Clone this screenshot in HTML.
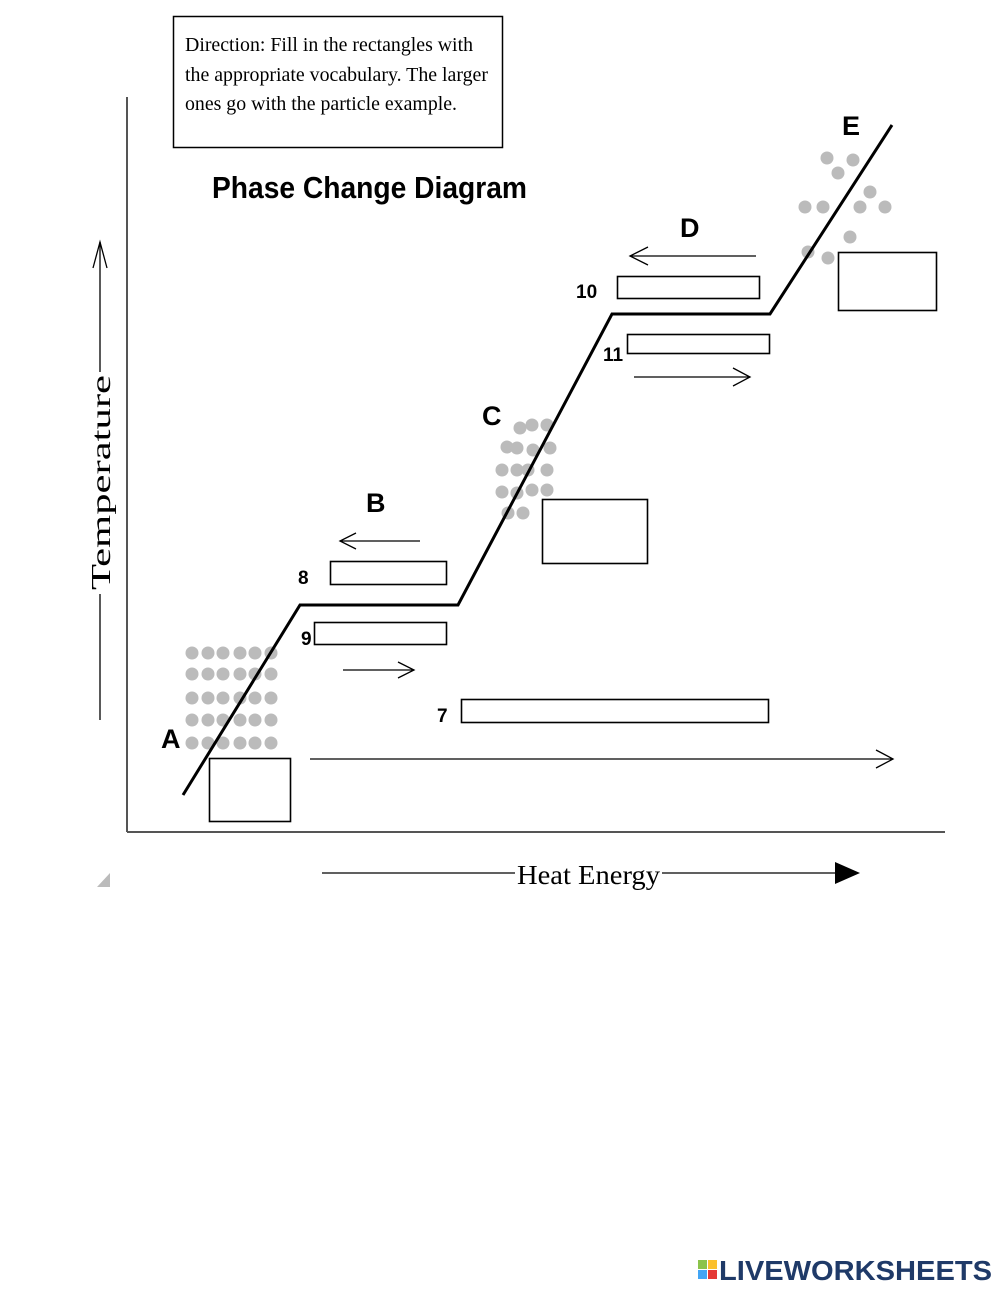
<!DOCTYPE html>
<html><head><meta charset="utf-8"><style>body{margin:0;background:#fff}svg{display:block}</style></head>
<body>
<svg width="1000" height="1291" viewBox="0 0 1000 1291" xmlns="http://www.w3.org/2000/svg">
<rect width="1000" height="1291" fill="#fff"/>
<rect x="173.5" y="16.5" width="329" height="131" fill="#fff" stroke="#000" stroke-width="1.5"/>
<g font-family="Liberation Serif, serif" font-size="20" fill="#000">
<text x="185" y="51" textLength="288" lengthAdjust="spacingAndGlyphs">Direction: Fill in the rectangles with</text>
<text x="185" y="81" textLength="303" lengthAdjust="spacingAndGlyphs">the appropriate vocabulary. The larger</text>
<text x="185" y="110" textLength="272" lengthAdjust="spacingAndGlyphs">ones go with the particle example.</text>
</g>
<text x="212" y="198" font-family="Liberation Sans, sans-serif" font-weight="bold" font-size="31" textLength="315" lengthAdjust="spacingAndGlyphs">Phase Change Diagram</text>
<line x1="127" y1="97" x2="127" y2="832" stroke="#555" stroke-width="2"/>
<line x1="127" y1="832" x2="945" y2="832" stroke="#555" stroke-width="2"/>
<line x1="100" y1="720" x2="100" y2="242" stroke="#000" stroke-width="1.3"/>
<polyline points="93,268 100,242 107,268" fill="none" stroke="#000" stroke-width="1.3"/>
<rect x="88" y="372" width="24" height="222" fill="#fff"/>
<text transform="translate(110,590) rotate(-90)" font-family="Liberation Serif, serif" font-size="27" textLength="215" lengthAdjust="spacingAndGlyphs">Temperature</text>
<line x1="322" y1="873" x2="515" y2="873" stroke="#000" stroke-width="1.3"/>
<text x="517" y="884" font-family="Liberation Serif, serif" font-size="27" textLength="143" lengthAdjust="spacingAndGlyphs">Heat Energy</text>
<line x1="662" y1="873" x2="840" y2="873" stroke="#000" stroke-width="1.3"/>
<polygon points="835,862 860,873 835,884" fill="#000"/>
<polygon points="97,887 110,887 110,873" fill="#bbb"/>
<g fill="#bbb">
<g id="row">
<circle cx="192" cy="653" r="6.5"/><circle cx="208" cy="653" r="6.5"/><circle cx="223" cy="653" r="6.5"/><circle cx="240" cy="653" r="6.5"/><circle cx="255" cy="653" r="6.5"/><circle cx="271" cy="653" r="6.5"/>
</g>
<use href="#row" y="21"/><use href="#row" y="45"/><use href="#row" y="67"/><use href="#row" y="90"/>
<circle cx="520" cy="428" r="6.5"/><circle cx="532" cy="425" r="6.5"/><circle cx="547" cy="425" r="6.5"/>
<circle cx="507" cy="447" r="6.5"/><circle cx="517" cy="448" r="6.5"/><circle cx="533" cy="450" r="6.5"/><circle cx="550" cy="448" r="6.5"/>
<circle cx="502" cy="470" r="6.5"/><circle cx="517" cy="470" r="6.5"/><circle cx="528" cy="470" r="6.5"/><circle cx="547" cy="470" r="6.5"/>
<circle cx="502" cy="492" r="6.5"/><circle cx="517" cy="493" r="6.5"/><circle cx="532" cy="490" r="6.5"/><circle cx="547" cy="490" r="6.5"/>
<circle cx="508" cy="513" r="6.5"/><circle cx="523" cy="513" r="6.5"/>
<circle cx="827" cy="158" r="6.5"/><circle cx="853" cy="160" r="6.5"/><circle cx="838" cy="173" r="6.5"/><circle cx="870" cy="192" r="6.5"/>
<circle cx="805" cy="207" r="6.5"/><circle cx="823" cy="207" r="6.5"/><circle cx="860" cy="207" r="6.5"/><circle cx="885" cy="207" r="6.5"/>
<circle cx="850" cy="237" r="6.5"/><circle cx="808" cy="252" r="6.5"/><circle cx="828" cy="258" r="6.5"/>
</g>
<polyline points="183,795 300,605 458,605 612,314 770,314 892,125" fill="none" stroke="#000" stroke-width="3"/>
<g fill="#fff" stroke="#000" stroke-width="1.6">
<rect x="209.5" y="758.5" width="81" height="63"/>
<rect x="542.5" y="499.5" width="105" height="64"/>
<rect x="838.5" y="252.5" width="98" height="58"/>
<rect x="330.5" y="561.5" width="116" height="23"/>
<rect x="314.5" y="622.5" width="132" height="22"/>
<rect x="461.5" y="699.5" width="307" height="23"/>
<rect x="617.5" y="276.5" width="142" height="22"/>
<rect x="627.5" y="334.5" width="142" height="19"/>
</g>
<g fill="none" stroke="#000" stroke-width="1.3">
<line x1="340" y1="541" x2="420" y2="541"/><polyline points="356,533 340,541 356,549"/>
<line x1="343" y1="670" x2="414" y2="670"/><polyline points="398,662 414,670 398,678"/>
<line x1="630" y1="256" x2="756" y2="256"/><polyline points="648,247 630,256 648,265"/>
<line x1="634" y1="377" x2="750" y2="377"/><polyline points="733,368 750,377 733,386"/>
<line x1="310" y1="759" x2="893" y2="759"/><polyline points="876,750 893,759 876,768"/>
</g>
<g font-family="Liberation Sans, sans-serif" font-weight="bold" fill="#000">
<text x="161" y="748" font-size="27">A</text>
<text x="366" y="512" font-size="27">B</text>
<text x="482" y="425" font-size="27">C</text>
<text x="680" y="237" font-size="27">D</text>
<text x="842" y="135" font-size="27">E</text>
<text x="298" y="584" font-size="19">8</text>
<text x="301" y="645" font-size="19">9</text>
<text x="437" y="722" font-size="19">7</text>
<text x="576" y="298" font-size="19">10</text>
<text x="603" y="361" font-size="19">11</text>
</g>
<g font-family="Liberation Sans, sans-serif" font-weight="bold">
<rect x="698" y="1260" width="9" height="9" fill="#8bc34a"/><rect x="708" y="1260" width="9" height="9" fill="#fbc02d"/>
<rect x="698" y="1270" width="9" height="9" fill="#42a5f5"/><rect x="708" y="1270" width="9" height="9" fill="#e53935"/>
<text x="719" y="1280" font-size="28" fill="#1f3a68" textLength="273" lengthAdjust="spacingAndGlyphs">LIVEWORKSHEETS</text>
</g>
</svg>
</body></html>
